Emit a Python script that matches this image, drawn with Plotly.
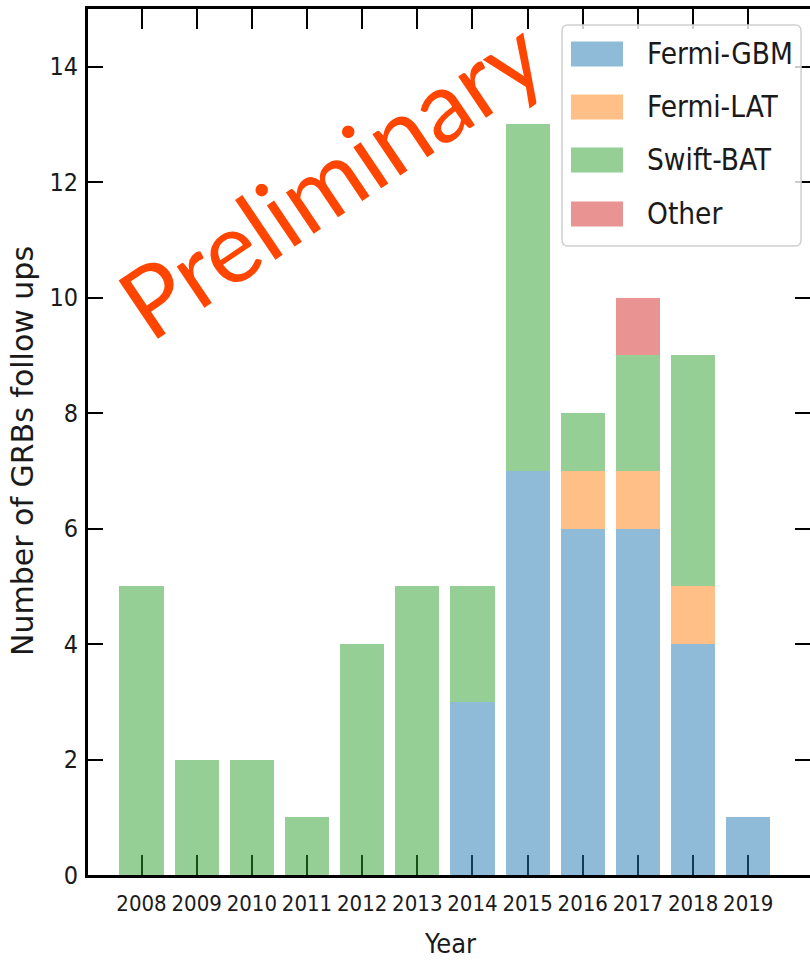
import plotly.graph_objects as go

# ---- data ----
years = [2008, 2009, 2010, 2011, 2012, 2013, 2014, 2015, 2016, 2017, 2018, 2019]
fermi_gbm = [0, 0, 0, 0, 0, 0, 3, 7, 6, 6, 4, 1]
fermi_lat = [0, 0, 0, 0, 0, 0, 0, 0, 1, 1, 1, 0]
swift_bat = [5, 2, 2, 1, 4, 5, 2, 6, 1, 2, 4, 0]
other = [0, 0, 0, 0, 0, 0, 0, 0, 0, 1, 0, 0]
series_names = ["Fermi-GBM", "Fermi-LAT", "Swift-BAT", "Other"]
series_values = [fermi_gbm, fermi_lat, swift_bat, other]
series_colors = ["rgba(31,119,180,0.5)", "rgba(255,127,14,0.5)",
                 "rgba(44,160,44,0.5)", "rgba(214,39,40,0.5)"]
y_ticks = [0, 2, 4, 6, 8, 10, 12, 14]

W, H = 810, 962
L, R, T, B = 88, 810, 9, 875

NARROW = "DejaVu Sans Condensed, DejaVu Sans, sans-serif"
TXT = "#1a1a1a"


def pxx(x):
    return (x - L) / (R - L)


def pxy(y):
    return (B - y) / (B - T)


fig = go.Figure()
for name, vals, col in zip(series_names, series_values, series_colors):
    fig.add_trace(go.Bar(x=years, y=vals, name=name, width=0.8,
                         marker=dict(color=col, line=dict(width=0)),
                         showlegend=False))

axis_common = dict(showline=True, linewidth=3, linecolor="black",
                   ticks="inside", tickcolor="black", tickwidth=2,
                   showgrid=False, zeroline=False, mirror="ticks",
                   layer="below traces", automargin=False)

fig.update_layout(
    width=W, height=H,
    margin=dict(l=L, r=W - R, t=T, b=H - B),
    plot_bgcolor="white", paper_bgcolor="white",
    barmode="stack",
    xaxis=dict(range=[2007.03, 2020.12], tickvals=years,
               ticktext=[str(y) for y in years], ticklen=20, tickangle=0,
               ticklabelstandoff=7,
               tickfont=dict(family=NARROW, size=22, color=TXT),
               **axis_common),
    yaxis=dict(range=[0, 15], tickvals=y_ticks, ticklen=15,
               ticklabelstandoff=2,
               tickfont=dict(family=NARROW, size=25, color=TXT),
               **axis_common),
)

# axis titles
fig.add_annotation(x=pxx(450), y=pxy(943), xref="paper", yref="paper",
                   text="Year", showarrow=False, xanchor="center", yanchor="middle",
                   font=dict(family=NARROW, size=27, color=TXT))
fig.add_annotation(x=pxx(22), y=pxy(451), xref="paper", yref="paper",
                   text="Number of GRBs follow ups", showarrow=False, textangle=-90,
                   xanchor="center", yanchor="middle",
                   font=dict(family="DejaVu Sans", size=30, color=TXT))

# legend box (rounded)
x0, x1, y0, y1, r = pxx(562), pxx(801), pxy(25), pxy(246), 6
rx, ry = r / (R - L), r / (B - T)
path = (f"M{x0+rx},{y0} L{x1-rx},{y0} Q{x1},{y0} {x1},{y0-ry} "
        f"L{x1},{y1+ry} Q{x1},{y1} {x1-rx},{y1} L{x0+rx},{y1} "
        f"Q{x0},{y1} {x0},{y1+ry} L{x0},{y0-ry} Q{x0},{y0} {x0+rx},{y0} Z")
fig.add_shape(type="path", path=path, xref="paper", yref="paper",
              fillcolor="rgba(255,255,255,0.8)", line=dict(color="#d0d0d0", width=1.5))

row_centers = [54, 107, 160, 214]
for name, col, yc in zip(series_names, series_colors, row_centers):
    fig.add_shape(type="rect", xref="paper", yref="paper",
                  x0=pxx(571), x1=pxx(623), y0=pxy(yc + 12.5), y1=pxy(yc - 12.5),
                  fillcolor=col, line=dict(width=0))
    fig.add_annotation(x=pxx(645), y=pxy(yc), xref="paper", yref="paper",
                       text=name, showarrow=False, xanchor="left", yanchor="middle",
                       font=dict(family=NARROW, size=29.5, color=TXT))

fig.add_annotation(x=pxx(330), y=pxy(177), xref="paper", yref="paper",
                   text="Preliminary", showarrow=False, textangle=-34,
                   xanchor="center", yanchor="middle",
                   font=dict(family="Lato", size=98, color="#ff4500"))

fig.write_html("out.html")
